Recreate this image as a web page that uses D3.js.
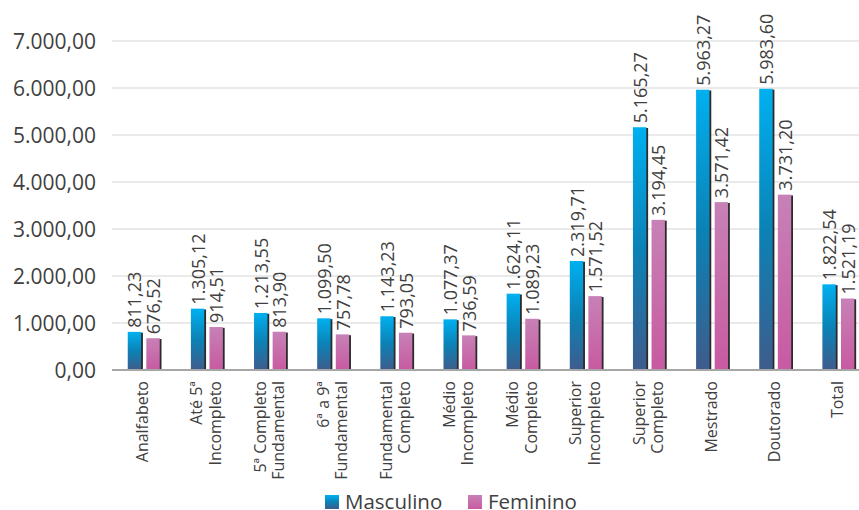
<!DOCTYPE html>
<html>
<head>
<meta charset="utf-8">
<script src="https://cdn.jsdelivr.net/npm/d3@7"></script>
<style>
	body { margin: 0; background: #fff; }
	svg text { font-family: "Open Sans", sans-serif; fill: #404040; }
</style>
</head>
<body>
<script>
//chart data
var categories = [
	["Analfabeto"],
	["Até 5ª", "Incompleto"],
	["5ª Completo", "Fundamental"],
	["6ª a 9ª", "Fundamental"],
	["Fundamental", "Completo"],
	["Médio", "Incompleto"],
	["Médio", "Completo"],
	["Superior", "Incompleto"],
	["Superior", "Completo"],
	["Mestrado"],
	["Doutorado"],
	["Total"]
];
var seriesNames = ["Masculino", "Feminino"];
var masculino = [811.23, 1305.12, 1213.55, 1099.50, 1143.23, 1077.37, 1624.11, 2319.71, 5165.27, 5963.27, 5983.60, 1822.54];
var feminino = [676.52, 914.51, 813.90, 757.78, 793.05, 736.59, 1089.23, 1571.52, 3194.45, 3571.42, 3731.20, 1521.19];
var yTicks = [0, 1000, 2000, 3000, 4000, 5000, 6000, 7000];

(function(){

	var width = 859,
		height = 510;

	//brazilian number format 1.234,56
	var ptBR = d3.formatLocale({ decimal: ",", thousands: ".", grouping: [3], currency: ["R$", ""] });
	var fmt = ptBR.format(",.2f");

	var svg = d3.select("body")
		.append("svg")
		.attr("width", width)
		.attr("height", height);

	//gradients for the bars
	var defs = svg.append("defs");
	var gradStops = {
		Masculino: [["0%", "#00b0f0"], ["50%", "#0b82b6"], ["100%", "#3e5c8c"]],
		Feminino: [["0%", "#c781b6"], ["100%", "#c85aa1"]]
	};
	seriesNames.forEach(function(s){
		var g = defs.append("linearGradient")
			.attr("id", "grad_" + s)
			.attr("x1", 0).attr("y1", 0)
			.attr("x2", 0).attr("y2", 1);
		gradStops[s].forEach(function(st){
			g.append("stop").attr("offset", st[0]).attr("stop-color", st[1]);
		});
	});

	//scales (plot area runs past the right edge of the picture)
	var x0 = d3.scaleBand()
		.domain(d3.range(categories.length))
		.range([112.9, 870.7])
		.paddingInner(0.47)
		.paddingOuter(0.235);

	var x1 = d3.scaleBand()
		.domain(seriesNames)
		.range([0, x0.bandwidth()])
		.paddingInner(0.2);

	var y = d3.scaleLinear()
		.domain([0, 7000])
		.range([370, 41]);

	//gridlines
	svg.append("g")
		.selectAll("line")
		.data(yTicks.slice(1))
		.enter()
		.append("line")
		.attr("x1", 112)
		.attr("x2", width)
		.attr("y1", function(d){ return y(d); })
		.attr("y2", function(d){ return y(d); })
		.style("stroke", "#e3e3e3")
		.style("stroke-width", 1.5);

	//y axis labels
	var yAxis = d3.axisLeft(y)
		.tickValues(yTicks)
		.tickFormat(fmt)
		.tickSize(0)
		.tickPadding(0);
	var yG = svg.append("g")
		.attr("transform", "translate(96,0)")
		.call(yAxis);
	yG.select(".domain").remove();
	yG.selectAll("text")
		.attr("font-family", null)
		.style("font-size", "21px")
		.attr("dy", "0.36em");

	var rows = categories.map(function(c, i){
		return { i: i, values: [
			{ s: "Masculino", v: masculino[i] },
			{ s: "Feminino", v: feminino[i] }
		] };
	});

	var groups = svg.append("g")
		.selectAll(".cat")
		.data(rows)
		.enter()
		.append("g")
		.attr("class", "cat")
		.attr("transform", function(d){ return "translate(" + x0(d.i) + ",0)"; });

	var bw = x1.bandwidth() - 1.5;

	//shadow on the right of each bar
	groups.selectAll(".shadow")
		.data(function(d){ return d.values; })
		.enter()
		.append("rect")
		.attr("class", "shadow")
		.attr("x", function(d){ return x1(d.s) + 1.8; })
		.attr("y", function(d){ return y(d.v) + 0.8; })
		.attr("width", bw)
		.attr("height", function(d){ return y(0) - y(d.v) - 0.8; })
		.style("fill", "#2b2b2b");

	groups.selectAll(".bar")
		.data(function(d){ return d.values; })
		.enter()
		.append("rect")
		.attr("class", "bar")
		.attr("x", function(d){ return x1(d.s); })
		.attr("y", function(d){ return y(d.v); })
		.attr("width", bw)
		.attr("height", function(d){ return y(0) - y(d.v); })
		.style("fill", function(d){ return "url(#grad_" + d.s + ")"; });

	//value labels, rotated
	groups.selectAll(".val")
		.data(function(d){ return d.values; })
		.enter()
		.append("text")
		.attr("class", "val")
		.attr("transform", function(d){
			return "translate(" + (x1(d.s) + x1.bandwidth() / 2) + "," + (y(d.v) - 4) + ") rotate(-90)";
		})
		.attr("dy", "0.35em")
		.style("font-size", "18px")
		.text(function(d){ return fmt(d.v); });

	//base axis line
	svg.append("line")
		.attr("x1", 112)
		.attr("x2", width)
		.attr("y1", y(0))
		.attr("y2", y(0))
		.style("stroke", "#a6a6a6")
		.style("stroke-width", 2);

	//category labels, rotated
	var catLabels = svg.append("g")
		.selectAll(".catlabel")
		.data(categories)
		.enter()
		.append("text")
		.attr("class", "catlabel")
		.attr("text-anchor", "end")
		.style("font-size", "16px")
		.attr("transform", function(d, i){
			return "translate(" + (x0(i) + x0.bandwidth() / 2 + 4) + ",381) rotate(-90)";
		});
	catLabels.each(function(d){
		var t = d3.select(this);
		var off = (d.length - 1) * 9.15;
		d.forEach(function(line, k){
			t.append("tspan")
				.attr("x", 0)
				.attr("y", -off + k * 18.3)
				.text(line);
		});
	});

	//legend
	var legendX = [325, 468];
	var legend = svg.append("g")
		.selectAll(".legend")
		.data(seriesNames)
		.enter()
		.append("g")
		.attr("class", "legend")
		.attr("transform", function(d, i){ return "translate(" + legendX[i] + ",495)"; });
	legend.append("rect")
		.attr("width", 14)
		.attr("height", 14)
		.style("fill", function(d){ return "url(#grad_" + d + ")"; });
	legend.append("text")
		.attr("x", 20)
		.attr("y", 7)
		.attr("dy", "0.36em")
		.style("font-size", "20.5px")
		.text(function(d){ return d; });

})();
</script>
</body>
</html>
